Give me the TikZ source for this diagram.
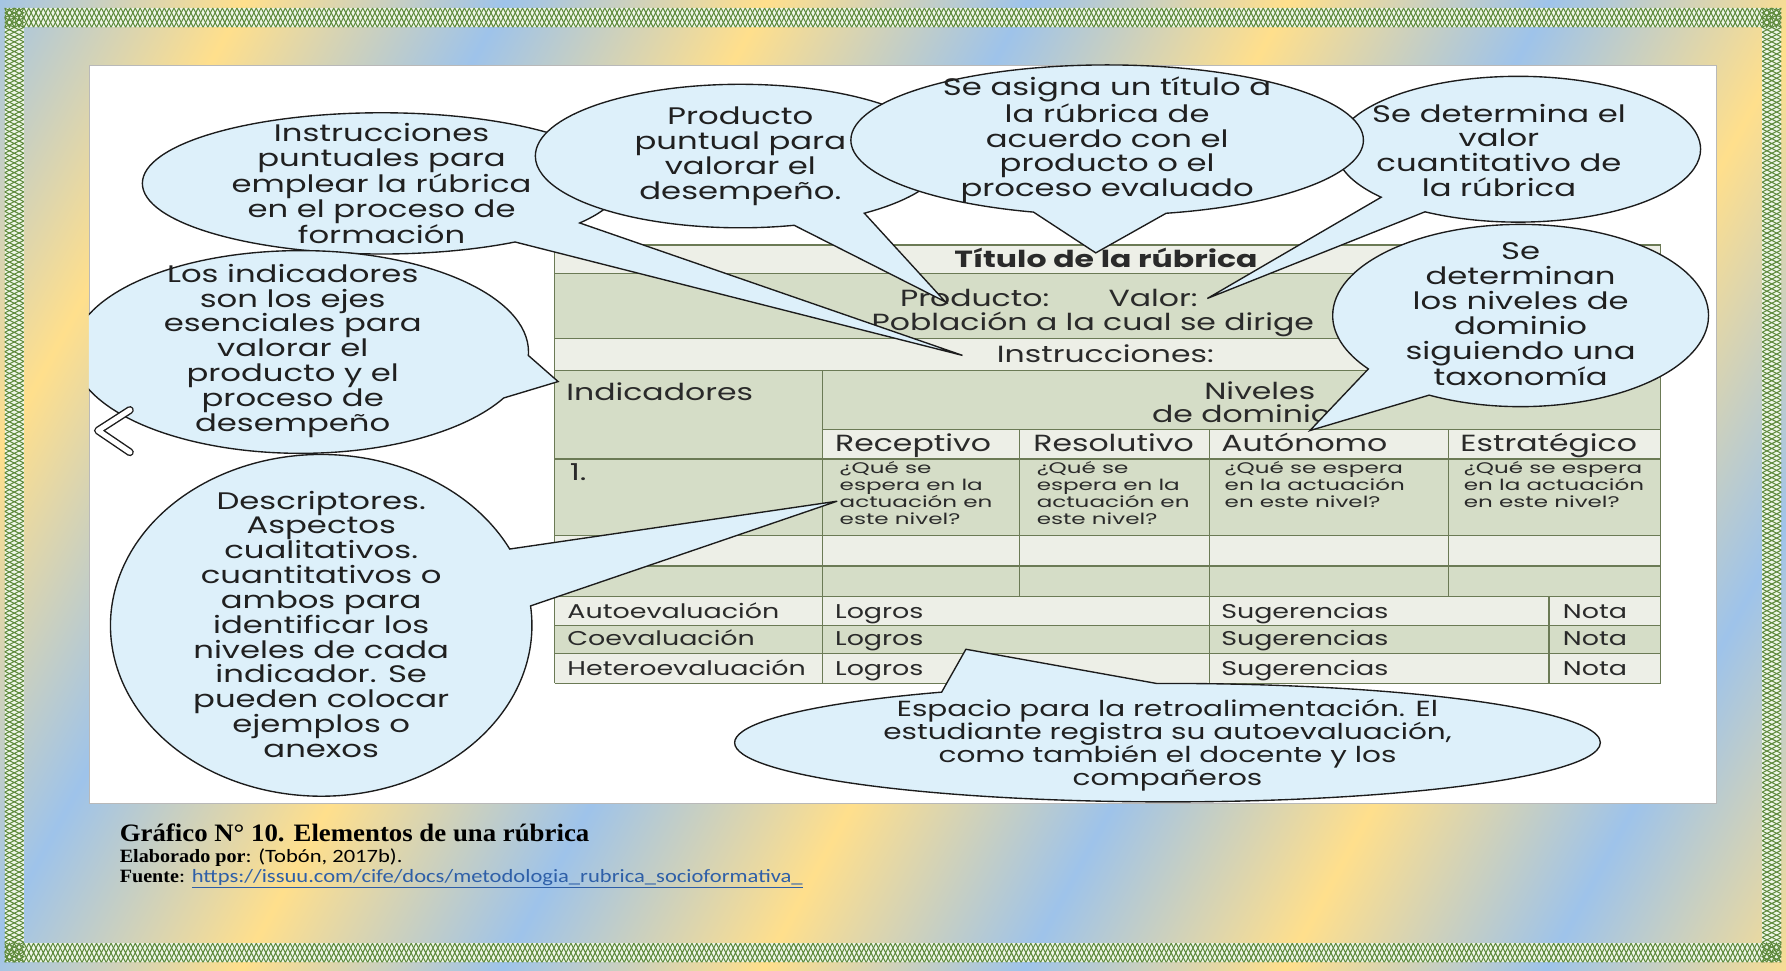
\documentclass[tikz,border=0pt]{standalone}
\usepackage{fontspec}
\usetikzlibrary{shapes.callouts}
\newfontfamily\gothic{Poppins}[FakeStretch=1.35]
\newfontfamily\gothicwide{Poppins}[FakeStretch=1.5]
\newfontfamily\capserif{Liberation Serif}[FakeStretch=1.07]
\newfontfamily\capsans{Carlito}[FakeStretch=1.2]
\newcommand\bubblefont{\gothic\fontsize{21}{21.8}\selectfont}
\newcommand\retrofont{\gothic\fontsize{19.2}{20.3}\selectfont}
\newcommand\cellfont{\gothic\fontsize{20.5}{22}\selectfont}
\newcommand\evalfont{\gothic\fontsize{17.5}{19}\selectfont}
\newcommand\smallcellfont{\gothicwide\fontsize{13.5}{15}\selectfont}
\definecolor{bubblefill}{HTML}{DDF0FA}
\definecolor{bubbleline}{HTML}{1C1C1C}
\definecolor{bubbleink}{HTML}{202020}
\definecolor{cellink}{HTML}{2A2A2A}
\definecolor{rowlight}{HTML}{EDEFE7}
\definecolor{rowdark}{HTML}{D5DDC7}
\definecolor{gridline}{HTML}{6B7A55}
\definecolor{glowyellow}{HTML}{FFDF8C}
\definecolor{glowblue}{HTML}{9EC3EA}
\definecolor{lattice}{HTML}{5E8A3C}
\definecolor{latticebg}{HTML}{EFF6E8}
\definecolor{linkblue}{HTML}{2E5FA8}
\pgfdeclarehorizontalshading{frameglow}{100bp}{color(0bp)=(glowblue); color(7.7bp)=(glowyellow); color(15.4bp)=(glowblue); color(23.1bp)=(glowyellow); color(30.8bp)=(glowblue); color(38.5bp)=(glowyellow); color(46.2bp)=(glowblue); color(53.9bp)=(glowyellow); color(61.6bp)=(glowblue); color(69.3bp)=(glowyellow); color(77bp)=(glowblue); color(84.7bp)=(glowyellow); color(92.4bp)=(glowblue); color(100bp)=(glowyellow)}

\begin{document}
\begin{tikzpicture}[
    x=1pt, y=-1pt,
    bubble/.style={ellipse callout, draw=bubbleline, fill=bubblefill,
                   line width=1.2pt, inner sep=0pt},
    bubbletext/.style={align=center, inner sep=0pt, text=bubbleink, font=\bubblefont},
    celltext/.style={anchor=base west, inner sep=0pt, text=cellink, font=\cellfont},
    evaltext/.style={anchor=base west, inner sep=0pt, text=cellink, font=\evalfont},
    smalltext/.style={anchor=north west, inner sep=0pt, align=left,
                      text=cellink, font=\smallcellfont},
    gridrule/.style={draw=gridline, line width=1.1pt},
    latticeline/.style={draw=lattice, line width=0.9pt},
  ]
  \useasboundingbox (0,0) rectangle (1568,852);

  % frame
  \fill[shading=frameglow, shading angle=-28.5] (0,0) rectangle (1568,852);
  \fill[latticebg] (4,7) rectangle (1564,24);
  \fill[latticebg] (4,828) rectangle (1564,845);
  \fill[latticebg] (4,7) rectangle (21,845);
  \fill[latticebg] (1547,7) rectangle (1564,845);
  \begin{scope}
    \clip (4,7) rectangle (1564,24) (4,828) rectangle (1564,845)
          (4,7) rectangle (21,845) (1547,7) rectangle (1564,845);
    \foreach \yb in {7,828}
      \foreach \r in {0,8.5} {
        \draw[latticeline] (4,\yb+\r) \foreach \i in {1,...,184} {-- ++(4.25,8.5) -- ++(4.25,-8.5)};
        \draw[latticeline] (4,\yb+\r+8.5) \foreach \i in {1,...,184} {-- ++(4.25,-8.5) -- ++(4.25,8.5)};
      }
    \foreach \xb in {4,1547}
      \foreach \r in {0,8.5} {
        \draw[latticeline] (\xb+\r,7) \foreach \i in {1,...,99} {-- ++(8.5,4.25) -- ++(-8.5,4.25)};
        \draw[latticeline] (\xb+\r+8.5,7) \foreach \i in {1,...,99} {-- ++(-8.5,4.25) -- ++(8.5,4.25)};
      }
  \end{scope}

  % white sheet
  \fill[white] (78,57) rectangle (1507,705);
  \draw[gray!55, line width=0.6pt] (78,57) rectangle (1507,705);

  % rubric table
  \foreach \ya/\yb/\tint in {215/240/rowlight, 240/297/rowdark, 297/325/rowlight,
      325/377/rowdark, 377/403/rowlight, 403/470/rowdark, 470/497/rowlight,
      497/524/rowdark, 524/549/rowlight, 549/574/rowdark, 574/600/rowlight}
    \fill[\tint] (487,\ya) rectangle (1458,\yb);
  \fill[rowdark] (487,377) rectangle (722,403);
  \foreach \yy in {215,240,297,325,403,470,497,524,549,574,600}
    \draw[gridrule] (487,\yy) -- (1458,\yy);
  \draw[gridrule] (722,377) -- (1458,377);
  \draw[gridrule] (487,215) -- (487,600);
  \draw[gridrule] (1458,215) -- (1458,600);
  \draw[gridrule] (722,325) -- (722,600);
  \foreach \xx in {895,1272}
    \draw[gridrule] (\xx,377) -- (\xx,524);
  \draw[gridrule] (1062,377) -- (1062,600);
  \draw[gridrule] (1360,524) -- (1360,600);

  \node[anchor=base, inner sep=0pt, text=cellink, font=\cellfont\bfseries] (rubTitle) at (971,235) {Título de la rúbrica};
  \node[celltext] (producto) at (790,269) {Producto:};
  \node[celltext] (valor) at (973,269) {Valor:};
  \node[celltext] (poblacion) at (765,290) {Población a la cual se dirige};
  \node[celltext] (instrucciones) at (875,318) {Instrucciones:};
  \node[celltext] (indicadores) at (497,352) {Indicadores};
  \node[anchor=base, inner sep=0pt, text=cellink, font=\cellfont] (niveles) at (1106,351) {Niveles};
  \node[anchor=base, inner sep=0pt, text=cellink, font=\cellfont] (dominio) at (1090,371) {de dominio};
  \node[celltext] (receptivo) at (733,396) {Receptivo};
  \node[celltext] (resolutivo) at (907,396) {Resolutivo};
  \node[celltext] (autonomo) at (1072,396) {Autónomo};
  \node[celltext] (estrategico) at (1282,396) {Estratégico};
  \node[celltext] (uno) at (500,422) {1.};
  \node[smalltext] (descRec) at (737,405) {¿Qué se\\espera en la\\actuación en\\este nivel?};
  \node[smalltext] (descRes) at (910,405) {¿Qué se\\espera en la\\actuación en\\este nivel?};
  \node[smalltext] (descAut) at (1075,405) {¿Qué se espera\\en la actuación\\en este nivel?};
  \node[smalltext] (descEst) at (1285,405) {¿Qué se espera\\en la actuación\\en este nivel?};
  \foreach \yy/\who [count=\k] in {543/Autoevaluación, 567/Coevaluación, 593/Heteroevaluación} {
    \node[evaltext] (evalname\k) at (498,\yy) {\who};
    \node[evaltext] (logros\k) at (733,\yy) {Logros};
    \node[evaltext] (suger\k) at (1072,\yy) {Sugerencias};
    \node[evaltext] (nota\k) at (1372,\yy) {Nota};
  }

  % where each bubble points
  \coordinate (tipInstr) at (845,312);
  \coordinate (tipProd) at (830,265);
  \coordinate (tipTitle) at (962,222);
  \coordinate (tipValor) at (1060,262);
  \coordinate (tipNiveles) at (1150,378);
  \coordinate (tipIndic) at (490,335);
  \coordinate (tipDesc) at (735,440);
  \coordinate (tipLogros) at (848,570);

  % callouts
  \begin{scope}
    \clip (78,57) rectangle (1507,705);
    \node[bubble, minimum width=420pt, minimum height=124pt,
          callout absolute pointer={(tipInstr)}, callout pointer arc=22] (bInstr) at (335,161) {};
    \node[bubbletext] (tInstr) at (335,161)
      {Instrucciones\\puntuales para\\emplear la rúbrica\\en el proceso de\\formación};
    \node[bubble, minimum width=360pt, minimum height=126pt,
          callout absolute pointer={(tipProd)}, callout pointer arc=22] (bProd) at (650,137) {};
    \node[bubbletext] (tProd) at (650,137)
      {Producto\\puntual para\\valorar el\\desempeño.};
    \node[bubble, minimum width=320pt, minimum height=128pt,
          callout absolute pointer={(tipValor)}, callout pointer arc=18] (bValor) at (1333,131) {};
    \node[bubbletext] (tValor) at (1316,132)
      {Se determina el\\valor\\cuantitativo de\\la rúbrica};
    \node[bubble, minimum width=450pt, minimum height=132pt,
          callout absolute pointer={(tipTitle)}, callout pointer arc=30] (bTitle) at (972,123) {};
    \node[bubbletext] (tTitle) at (972,123)
      {Se asigna un título a\\la rúbrica de\\acuerdo con el\\producto o el\\proceso evaluado};
    \node[bubble, minimum width=330pt, minimum height=160pt,
          callout absolute pointer={(tipNiveles)}, callout pointer arc=25] (bNiveles) at (1335,277) {};
    \node[bubbletext] (tNiveles) at (1335,276)
      {Se\\determinan\\los niveles de\\dominio\\siguiendo una\\taxonomía};
    \node[bubble, minimum width=400pt, minimum height=178pt,
          callout absolute pointer={(tipIndic)}, callout pointer arc=25] (bIndic) at (264,309) {};
    \node[bubbletext] (tIndic) at (257,308)
      {Los indicadores\\son los ejes\\esenciales para\\valorar el\\producto y el\\proceso de\\desempeño};
    \node[bubble, minimum width=370pt, minimum height=300pt,
          callout absolute pointer={(tipDesc)}, callout pointer arc=20] (bDesc) at (282,549) {};
    \node[bubbletext] (tDesc) at (282,548)
      {Descriptores.\\Aspectos\\cualitativos.\\cuantitativos o\\ambos para\\identificar los\\niveles de cada\\indicador. Se\\pueden colocar\\ejemplos o\\anexos};
    \node[bubble, minimum width=760pt, minimum height=104pt,
          callout absolute pointer={(tipLogros)}, callout pointer arc=30] (bRetro) at (1025,652) {};
    \node[bubbletext, font=\retrofont] (tRetro) at (1025,654)
      {Espacio para la retroalimentación. El\\estudiante registra su autoevaluación,\\como también el docente y los\\compañeros};
    % stray chevron at the sheet edge
    \draw[bubbleline, line width=7pt, line cap=round, line join=round] (114,360) -- (86,378) -- (114,397);
    \draw[white, line width=4.5pt, line cap=round, line join=round] (114,360) -- (86,378) -- (114,397);
  \end{scope}

  % caption
  \node[anchor=base west, inner sep=0pt, font=\capserif\bfseries\fontsize{22}{24}\selectfont] (capMain) at (105,739)
    {Gráfico N° 10. Elementos de una rúbrica};
  \node[anchor=base west, inner sep=0pt, font=\fontsize{16.5}{17}\selectfont] (capBy) at (105,757)
    {{\capserif\bfseries Elaborado por}{\capsans: (Tobón, 2017b).}};
  \node[anchor=base west, inner sep=0pt, font=\fontsize{16.5}{17}\selectfont] (capSrc) at (105,775)
    {{\capserif\bfseries Fuente}{\capsans: \textcolor{linkblue}{\underline{https://issuu.com/cife/docs/metodologia\_rubrica\_socioformativa\_}}}};
\end{tikzpicture}
\end{document}
